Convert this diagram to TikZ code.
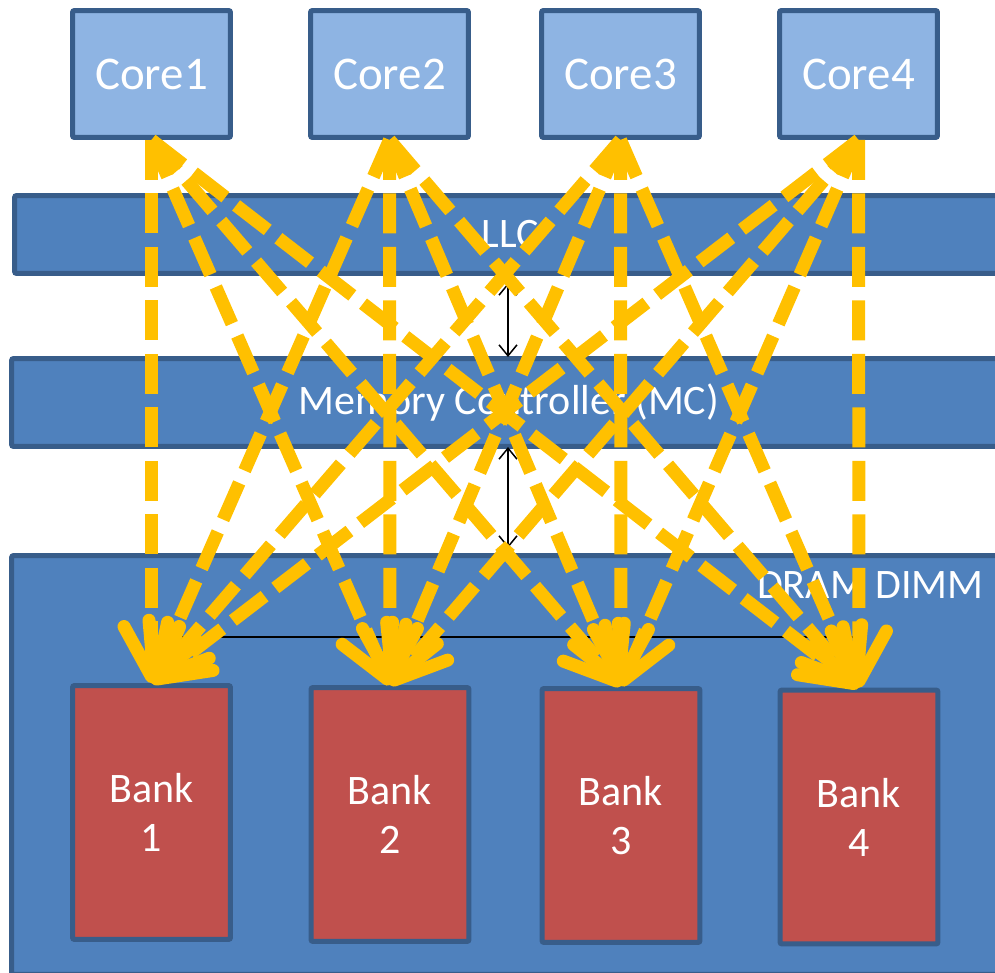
\documentclass[tikz,border=0pt]{standalone}
\usepackage{fontspec}
\setmainfont{Carlito}
\usetikzlibrary{arrows.meta}
\definecolor{edgeblue}{RGB}{56,93,138}
\definecolor{corefill}{RGB}{142,180,227}
\definecolor{barfill}{RGB}{79,129,189}
\definecolor{bankfill}{RGB}{192,80,77}
\definecolor{flowyellow}{RGB}{255,192,0}
\tikzset{
  blk/.style={draw=edgeblue, line width=0.1cm, rounded corners=0.04cm, inner sep=0pt,
              text=white},
  corebox/.style={blk, fill=corefill, minimum width=3.16cm, minimum height=2.54cm,
                  font=\fontsize{26.7}{32}\selectfont},
  barbox/.style={blk, fill=barfill, font=\fontsize{23.9}{29}\selectfont},
  bankbox/.style={blk, fill=bankfill, minimum width=3.16cm, minimum height=5.08cm,
                  align=center, font=\fontsize{23.9}{27.9}\selectfont},
  link/.style={black, line width=0.85pt,
               {Straight Barb[length=0.22cm,width=0.36cm]}-{Straight Barb[length=0.22cm,width=0.36cm]}},
  flow/.style={flowyellow, line width=0.26cm, dash pattern=on 0.8cm off 0.27cm,
               -{Straight Barb[length=1.0cm,width=1.1cm,round]}},
}
\begin{document}
\begin{tikzpicture}[x=0.02cm, y=-0.02cm]
\useasboundingbox (0,0) rectangle (995,973);
\clip (0,0) rectangle (995,973);

% cache and memory-controller bars, DIMM
\node[barbox, minimum width=19.82cm, minimum height=1.56cm] (llc) at (510,234.5) {LLC};
\node[barbox, minimum width=19.9cm, minimum height=1.76cm] (mc) at (509,402.5) {Memory Controller (MC)};
\node[barbox, minimum width=19.98cm, minimum height=8.38cm] (dimm) at (511,765) {};
\node[anchor=east, text=white, inner sep=0pt, font=\fontsize{23.9}{29}\selectfont] (dimmlabel) at (984,585) {DRAM DIMM};

% cores
\node[corebox] (core1) at (151.5,74) {Core1};
\node[corebox] (core2) at (389.5,74) {Core2};
\node[corebox] (core3) at (620.5,74) {Core3};
\node[corebox] (core4) at (858.5,74) {Core4};

% banks
\node[bankbox] (bank1) at (151.5,812.5) {Bank\\1};
\node[bankbox] (bank2) at (390,814.5) {Bank\\2};
\node[bankbox] (bank3) at (621,815.5) {Bank\\3};
\node[bankbox] (bank4) at (859,817) {Bank\\4};

% interconnect between the layers
\coordinate (llcout) at (508,283);
\coordinate (mcin) at (508,357);
\coordinate (mcout) at (508,447);
\coordinate (dimmin) at (508,548);
\draw[link] (llcout) -- (mcin);
\draw[link] (mcout) -- (dimmin);
\coordinate (busl) at (152,637);
\coordinate (busr) at (858,637);
\draw[black, line width=0.85pt] (busl) -- (busr);

% every core reaches every bank
\foreach \c in {1,...,4}
  \foreach \b in {1,...,4}
    \draw[flow] (core\c.south) -- (bank\b.north);
\end{tikzpicture}
\end{document}
